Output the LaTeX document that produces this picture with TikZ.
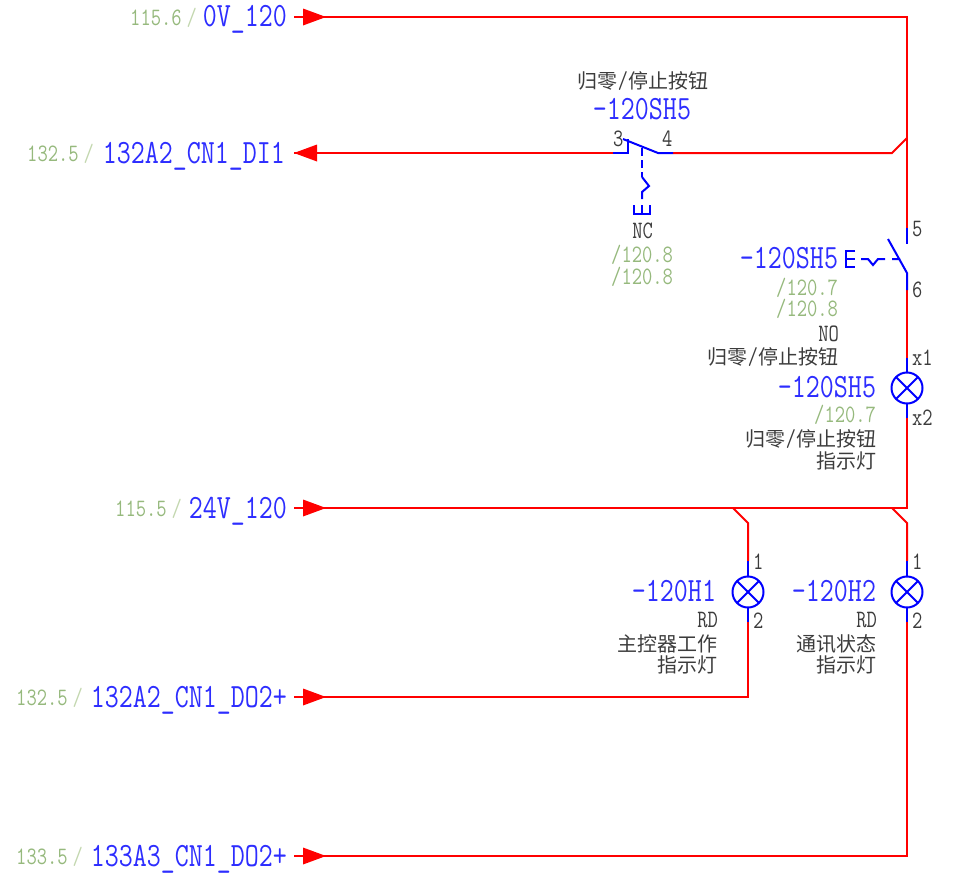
\documentclass[tikz,border=0pt]{standalone}
\usepackage{fontspec}
\newfontfamily\lat{Latin Modern Mono}[FakeStretch=0.8]
\newfontfamily\cjk{Noto Sans CJK SC}[Scale=1]
\definecolor{wirered}{RGB}{255,0,0}
\definecolor{symblue}{RGB}{0,0,255}
\definecolor{txtblue}{RGB}{45,45,255}
\definecolor{refgreen}{RGB}{150,185,125}
\definecolor{slashgreen}{RGB}{195,215,175}
\definecolor{txtgray}{RGB}{60,60,60}
\newcommand\arrowR[1]{\fill[wirered] (303,#1-8.5) -- (326,#1) -- (303,#1+8.5) -- cycle;}
\newcommand\arrowL[1]{\fill[wirered] (317,#1-8.5) -- (294,#1) -- (317,#1+8.5) -- cycle;}
\newcommand\cnslash{{\lat\fontsize{24.5}{24.5}\selectfont /}}
\newcommand\refslash{\hspace{5pt}\textcolor{slashgreen}{/}}
\tikzset{
  x=1pt,y=-1pt,
  wire/.style={draw=wirered,line width=2pt},
  sym/.style={draw=symblue,line width=2pt},
  dashsym/.style={draw=symblue,line width=2.2pt,dash pattern=on 8pt off 4pt},
  actu/.style={draw=symblue,line width=2pt},
  lbl/.style={inner sep=0pt,outer sep=0pt},
  tag/.style={lbl,anchor=base east,text=txtblue,font=\lat\fontsize{34}{34}\selectfont},
  ref/.style={lbl,anchor=base east,text=refgreen,font=\lat\fontsize{25}{25}\selectfont},
  pin/.style={lbl,anchor=base west,text=txtgray,font=\lat\fontsize{25}{25}\selectfont},
  note/.style={lbl,anchor=base east,text=txtgray,font=\lat\fontsize{25}{25}\selectfont},
  cn/.style={lbl,anchor=east,text=txtgray,font=\cjk\fontsize{20}{20}\selectfont},
  lamp/.style={circle,draw=symblue,line width=2pt,minimum size=31pt,inner sep=0pt,outer sep=0pt},
}
\begin{document}
\begin{tikzpicture}
\useasboundingbox (0,0) rectangle (955,878);
\coordinate (s0) at (294,17);
\coordinate (s1) at (294,153);
\coordinate (s2) at (294,508);
\coordinate (s3) at (294,697);
\coordinate (s4) at (294,856);
\coordinate (top) at (907,17);
\coordinate (j1) at (907,138);
\coordinate (j1b) at (892,153);
\coordinate (p5) at (907,228);
\coordinate (p5b) at (907,244);
\coordinate (p6a) at (907,273);
\coordinate (p6b) at (907,290);
\coordinate (bladeB) at (888,239);
\coordinate (lx1) at (907,358);
\coordinate (lx2) at (907,418);
\coordinate (bus) at (907,508);
\coordinate (j2) at (733,508);
\coordinate (j2b) at (748,523);
\coordinate (j3) at (892,508);
\coordinate (j3b) at (907,523);
\coordinate (h1a) at (748,561);
\coordinate (h1b) at (748,622);
\coordinate (h1c) at (748,697);
\coordinate (h2a) at (907,561);
\coordinate (h2b) at (907,622);
\coordinate (h2c) at (907,856);
\coordinate (p3) at (613,153);
\coordinate (p3b) at (628,153);
\coordinate (p3c) at (628,139);
\coordinate (bladeA) at (623,139);
\coordinate (bladeC) at (658,153);
\coordinate (p4) at (673,153);
% lamps
\node[lamp] (lampS) at (907,388) {};
\node[lamp] (lampA) at (748,592) {};
\node[lamp] (lampB) at (907,592) {};
\foreach \l in {lampS,lampA,lampB}{
  \draw[sym] (\l.north west) -- (\l.south east);
  \draw[sym] (\l.north east) -- (\l.south west);
}
% wires
\draw[wire] (s0) -- (top) -- (p5);
\draw[wire] (s1) -- (p3);
\draw[wire] (p4) -- (j1b) -- (j1);
\draw[wire] (p6b) -- (lx1);
\draw[wire] (lx2) -- (bus) -- (s2);
\draw[wire] (j2) -- (j2b) -- (h1a);
\draw[wire] (j3) -- (j3b) -- (h2a);
\draw[wire] (h1b) -- (h1c) -- (s3);
\draw[wire] (h2b) -- (h2c) -- (s4);
\arrowR{17} \arrowL{153} \arrowR{508} \arrowR{697} \arrowR{856}
% blue stubs
\draw[sym] (p5) -- (p5b);
\draw[sym] (bladeB) -- (p6a) -- (p6b);
\draw[sym] (lx1) -- (lampS);
\draw[sym] (lampS) -- (lx2);
\draw[sym] (h1a) -- (lampA);
\draw[sym] (lampA) -- (h1b);
\draw[sym] (h2a) -- (lampB);
\draw[sym] (lampB) -- (h2b);
\draw[sym] (p3) -- (p3b) -- (p3c);
\draw[sym] (bladeA) -- (bladeC) -- (p4);
% NC actuator
\coordinate (a1) at (642,148);
\coordinate (a2) at (642,177);
\coordinate (a3) at (649,186);
\coordinate (a4) at (642,192);
\coordinate (a5) at (642,199);
\draw[dashsym] (a1) -- (a2);
\draw[actu] (a2) -- (a3) -- (a4) -- (a5);
\draw[actu] (634,205) -- (634,214) -- (650,214) -- (650,205) (642,205) -- (642,214);
% NO actuator
\draw[actu] (855,251) -- (846,251) -- (846,267) -- (855,267) (846,259) -- (855,259);
\draw[actu] (861,259) -- (868,259) -- (873,265) -- (878,259) -- (885,259) (892,259) -- (900,259);
% texts
\node[tag] (t0) at (287,27) {0V\_120};
\node[tag] (t1) at (285,163) {132A2\_CN1\_DI1};
\node[tag] (t2) at (287,518) {24V\_120};
\node[tag] (t3) at (287,707) {132A2\_CN1\_DO2+};
\node[tag] (t4) at (287,866) {133A3\_CN1\_DO2+};
\node[ref] (r0) at (197,25) {115.6\refslash};
\node[ref] (r1) at (94,161) {132.5\refslash};
\node[ref] (r2) at (182,516) {115.5\refslash};
\node[ref] (r3) at (83,705) {132.5\refslash};
\node[ref] (r4) at (83,864) {133.5\refslash};
% NC contact
\node[cn] (c1) at (708,81) {归零\cnslash 停止按钮};
\node[tag] (c2) at (691,119) {-120SH5};
\node[pin] (c3) at (613,146) {3};
\node[pin] (c4) at (662,146) {4};
\node[note] (c5) at (653,238) {NC};
\node[ref] (c6) at (673,262) {/120.8};
\node[ref] (c7) at (673,284) {/120.8};
% NO contact
\node[tag] (d1) at (838,268) {-120SH5};
\node[pin] (d2) at (912,236) {5};
\node[pin] (d3) at (912,297) {6};
\node[ref] (d4) at (838,295) {/120.7};
\node[ref] (d5) at (838,316) {/120.8};
\node[note] (d6) at (839,341) {NO};
\node[cn] (d7) at (838,357) {归零\cnslash 停止按钮};
% lamp S
\node[tag] (e1) at (876,397) {-120SH5};
\node[pin] (e2) at (912,365) {x1};
\node[pin] (e3) at (912,425) {x2};
\node[ref] (e4) at (876,422) {/120.7};
\node[cn] (e5) at (876,439) {归零\cnslash 停止按钮};
\node[cn] (e6) at (876,461) {指示灯};
% lamp H1
\node[tag] (f1) at (716,601) {-120H1};
\node[pin] (f2) at (753,569) {1};
\node[pin] (f3) at (753,628) {2};
\node[note] (f4) at (718,627) {RD};
\node[cn] (f5) at (717,644) {主控器工作};
\node[cn] (f6) at (717,665) {指示灯};
% lamp H2
\node[tag] (g1) at (876,601) {-120H2};
\node[pin] (g2) at (912,569) {1};
\node[pin] (g3) at (912,628) {2};
\node[note] (g4) at (877,627) {RD};
\node[cn] (g5) at (876,644) {通讯状态};
\node[cn] (g6) at (876,665) {指示灯};
\end{tikzpicture}
\end{document}
